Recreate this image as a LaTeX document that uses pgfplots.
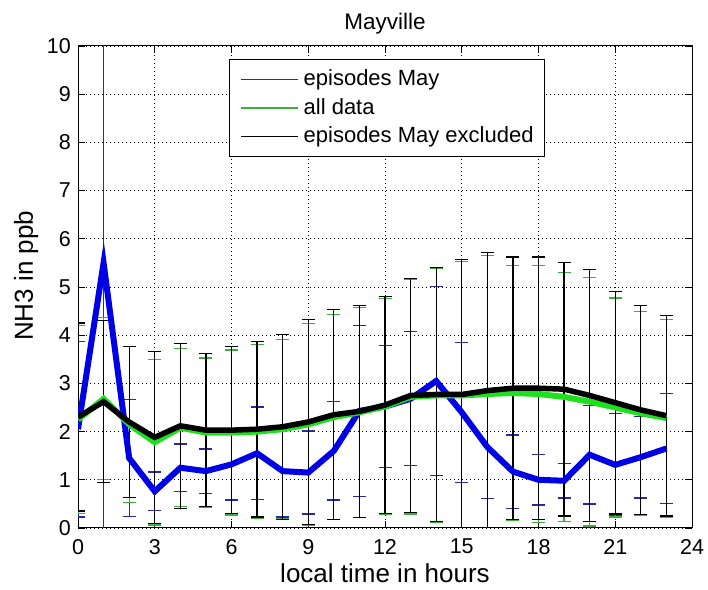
\documentclass[border=0pt]{standalone}
\usepackage{fontspec}
\setmainfont{Liberation Sans}
\usepackage{pgfplots}
\pgfplotsset{compat=1.18}
\usepackage{pgfplotstable}

\definecolor{mblue}{RGB}{0,0,230}
\definecolor{mgreen}{RGB}{30,225,30}
\definecolor{eblue}{RGB}{40,40,170}
\definecolor{egreen}{RGB}{60,175,60}
\newcommand\fs[1]{\fontsize{#1bp}{#1bp}\selectfont}

\pgfplotstableread{
h  b     be    g     ge    k     ke
0  2.05  1.82  2.25  1.95  2.30  1.95
1  5.50  6.00  2.68  1.68  2.62  1.68
2  1.45  1.21  2.15  1.62  2.20  1.56
3  0.76  0.40  1.78  1.72  1.88  1.78
4  1.25  0.49  2.08  1.64  2.12  1.71
5  1.18  0.46  1.98  1.55  2.03  1.59
6  1.32  0.74  1.98  1.71  2.03  1.73
7  1.55  0.96  2.00  1.81  2.05  1.82
8  1.18  0.95  2.05  1.86  2.10  1.92
9  1.15  0.86  2.15  2.09  2.20  2.13
10 1.60  1.02  2.30  2.13  2.35  2.18
11 2.43  1.77  2.40  2.18  2.42  2.20
12 2.52  1.26  2.52  2.24  2.55  2.25
13 2.68  1.39  2.72  2.43  2.75  2.43
14 3.05  1.96  2.75  2.63  2.77  2.64
15 2.40  1.45  2.75  2.78  2.77  2.80
16 1.68  1.07  2.78  2.88  2.85  2.86
17 1.17  0.76  2.80  2.65  2.90  2.72
18 1.00  0.52  2.78  2.67  2.90  2.72
19 0.98  0.36  2.72  2.58  2.88  2.63
20 1.52  1.02  2.62  2.58  2.75  2.62
21 1.31  1.06  2.50  2.27  2.60  2.31
22 1.47  0.85  2.38  2.11  2.45  2.17
23 1.65  1.14  2.28  2.05  2.33  2.08
}\data

\begin{document}
\begin{tikzpicture}
\useasboundingbox (0,0) rectangle (708bp,590bp);
\begin{axis}[
  at={(78bp,62bp)}, anchor=south west,
  scale only axis, width=614bp, height=482bp,
  xmin=0, xmax=24, ymin=0, ymax=10,
  xtick={0,3,...,24}, ytick={0,1,...,10},
  xtick pos=both, ytick pos=both,
  tick align=inside, major tick length=7bp,
  tick style={black, line width=0.9bp},
  axis line style={black, line width=1bp},
  grid=major,
  grid style={black, line width=0.8bp, dash pattern=on 1bp off 3bp},
  /pgf/number format/assume math mode=true,
  ticklabel style={font=\fs{21.5}},
  xticklabel style={inner sep=0pt, anchor=north, yshift=-11bp},
  yticklabel style={inner sep=0pt, anchor=east, xshift=-7bp},
  title={Mayville},
  title style={font=\fs{22.5}, at={(axis description cs:0.5,1.0228)}, anchor=base},
  xlabel={local time in hours},
  xlabel style={font=\fs{26}, at={(axis description cs:0.5,-0.1141)}, anchor=base},
  ylabel={NH3 in ppb},
  ylabel style={font=\fs{26}, at={(axis description cs:-0.0733,0.523)}, anchor=base, rotate=0},
  legend image code/.code={\draw[#1] (0bp,0bp) -- (57bp,0bp);},
  legend style={at={(axis description cs:0.2459,0.9730)}, anchor=north west,
    draw=black, line width=1bp, fill=white,
    inner xsep=11bp, inner ysep=9bp, row sep=6.5bp, column sep=5bp,
    font=\fs{22},
    nodes={inner sep=0pt, text height=17bp, text depth=5bp},
    cells={anchor=west}},
]
% error bars (thin)
\addplot[draw=none, mark=none, forget plot,
  error bars/.cd, y dir=both, y explicit,
  error bar style={draw=eblue, solid, line width=1.3bp},
  error mark options={draw=eblue, solid, line width=1.3bp, mark size=6.5bp, rotate=90}]
  table[x=h, y=b, y error=be] {\data};
\addplot[draw=none, mark=none, forget plot,
  error bars/.cd, y dir=both, y explicit,
  error bar style={draw=egreen, solid, line width=1.3bp},
  error mark options={draw=egreen, solid, line width=1.3bp, mark size=6.5bp, rotate=90}]
  table[x=h, y=g, y error=ge] {\data};
\addplot[draw=none, mark=none, forget plot,
  error bars/.cd, y dir=both, y explicit,
  error bar style={draw=black, solid, line width=1.3bp},
  error mark options={draw=black, solid, line width=1.3bp, mark size=6.5bp, rotate=90}]
  table[x=h, y=k, y error=ke] {\data};
% mean lines (thick)
\addplot[mblue, line width=6bp, mark=none, forget plot] table[x=h, y=b] {\data};
\addplot[mgreen, line width=6bp, mark=none, forget plot] table[x=h, y=g] {\data};
\addplot[black, line width=5.5bp, mark=none, forget plot] table[x=h, y=k] {\data};
% legend
\addlegendimage{draw=eblue, line width=1.2bp}
\addlegendentry{episodes May}
\addlegendimage{draw=egreen, line width=1.2bp}
\addlegendentry{all data}
\addlegendimage{draw=black, line width=1.2bp}
\addlegendentry{episodes May excluded}
\end{axis}
\end{tikzpicture}
\end{document}
